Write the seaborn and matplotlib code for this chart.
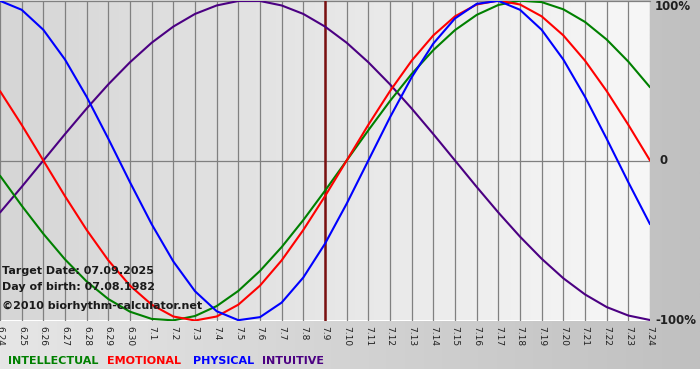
import numpy as np
import pandas as pd
import matplotlib
matplotlib.use("Agg")
import matplotlib.pyplot as plt
import seaborn as sns
from matplotlib.colors import LinearSegmentedColormap

# ---- data (percent, one value per day) ----
day_labels = ["6.24", "6.25", "6.26", "6.27", "6.28", "6.29", "6.30",
              "7.1", "7.2", "7.3", "7.4", "7.5", "7.6", "7.7", "7.8", "7.9",
              "7.10", "7.11", "7.12", "7.13", "7.14", "7.15", "7.16", "7.17",
              "7.18", "7.19", "7.20", "7.21", "7.22", "7.23", "7.24"]

intellectual = [-9.5, -28.2, -45.8, -61.8, -75.6, -86.6, -94.5, -99.0, -99.9,
                -97.2, -91.0, -81.5, -69.0, -54.1, -37.2, -18.9, 0.0, 18.9,
                37.2, 54.1, 69.0, 81.5, 91.0, 97.2, 99.9, 99.0, 94.5, 86.6,
                75.6, 61.8, 45.8]
emotional = [43.4, 22.3, 0.0, -22.3, -43.4, -62.4, -78.2, -90.1, -97.5,
             -100.0, -97.5, -90.1, -78.2, -62.4, -43.4, -22.3, 0.0, 22.3,
             43.4, 62.4, 78.2, 90.1, 97.5, 100.0, 97.5, 90.1, 78.2, 62.4,
             43.4, 22.3, 0.0]
physical = [99.8, 94.2, 81.7, 63.1, 39.8, 13.6, -13.6, -39.8, -63.1, -81.7,
            -94.2, -99.8, -97.9, -88.8, -73.1, -52.0, -27.0, 0.0, 27.0, 52.0,
            73.1, 88.8, 97.9, 99.8, 94.2, 81.7, 63.1, 39.8, 13.6, -13.6, -39.8]
intuitive = [-32.5, -16.5, 0.0, 16.5, 32.5, 47.6, 61.4, 73.6, 83.7, 91.6,
             96.9, 99.7, 99.7, 96.9, 91.6, 83.7, 73.6, 61.4, 47.6, 32.5, 16.5,
             0.0, -16.5, -32.5, -47.6, -61.4, -73.6, -83.7, -91.6, -96.9, -99.7]

target_label = "7.9"
series_names = ["INTELLECTUAL", "EMOTIONAL", "PHYSICAL", "INTUITIVE"]
info_lines = ["Target Date: 07.09.2025", "Day of birth: 07.08.1982",
              "\u00a92010 biorhythm-calculator.net"]

colors = {"INTELLECTUAL": "#008000", "EMOTIONAL": "#ff0000",
          "PHYSICAL": "#0000ff", "INTUITIVE": "#4b0082"}

x = np.arange(len(day_labels))
df = pd.concat([
    pd.DataFrame({"day": x, "value": vals, "rhythm": name})
    for name, vals in zip(series_names,
                          [intellectual, emotional, physical, intuitive])
])

sns.set_style("white")
plt.rcParams["font.family"] = ["DejaVu Sans"]

W, H = 700, 380
fig = plt.figure(figsize=(W / 100, H / 100), dpi=100, facecolor="white")

# figure background gradient (upper part), white band at the bottom
bg = fig.add_axes([0, 0, 1, 1], zorder=0)
bg.set_axis_off()
grad = np.linspace(0, 1, 256).reshape(1, -1)
cmap_bg = LinearSegmentedColormap.from_list("bg", ["#e6e6e6", "#c0c0c0"])
bg.imshow(grad, cmap=cmap_bg, aspect="auto",
          extent=[0, 1, 1 - 369 / H, 1], transform=bg.transAxes)
bg.set_xlim(0, 1)
bg.set_ylim(0, 1)

ax = fig.add_axes([0 / W, (H - 320.5) / H, 650 / W, 320 / H], zorder=1)
cmap_ax = LinearSegmentedColormap.from_list("ax", ["#d6d6d6", "#f7f7f7"])
ax.imshow(grad, cmap=cmap_ax, aspect="auto",
          extent=[0, len(x) - 1, -100, 100], zorder=0)

for xi in x:
    ax.axvline(xi, color="#808080", lw=0.9, zorder=1)
ax.axhline(0, color="#808080", lw=0.9, zorder=1)
ax.axhline(100, color="#808080", lw=0.9, zorder=1, clip_on=False)

ti = day_labels.index(target_label)
ax.axvline(ti, color="#7a1010", lw=1.8, zorder=2)

sns.lineplot(data=df, x="day", y="value", hue="rhythm",
             hue_order=["INTUITIVE", "INTELLECTUAL", "EMOTIONAL", "PHYSICAL"],
             palette=colors, linewidth=1.5, legend=False, ax=ax, zorder=3)

ax.set_xlim(0, len(x) - 1)
ax.set_ylim(-100, 100)
for s in ax.spines.values():
    s.set_visible(False)
ax.set_xlabel("")
ax.set_ylabel("")
ax.set_yticks([])
ax.set_xticks(x)
ax.set_xticklabels(day_labels, rotation=-90, fontsize=6.5, color="#202020")
ax.tick_params(axis="x", length=0, pad=4)
for lab in ax.get_xticklabels():
    lab.set_va("top")
    lab.set_ha("center")

# right-hand percentage labels
rx = 1 + 5 / 650
ax.text(rx, 100, "100%", transform=ax.get_yaxis_transform(), ha="left",
        va="top", fontsize=8.5, fontweight="bold", color="#202020",
        clip_on=False)
ax.text(1 + 9 / 650, 0, "0", transform=ax.get_yaxis_transform(), ha="left",
        va="center", fontsize=8.5, fontweight="bold", color="#202020",
        clip_on=False)
ax.text(rx, -100, "-100%", transform=ax.get_yaxis_transform(), ha="left",
        va="center", fontsize=8.5, fontweight="bold", color="#202020",
        clip_on=False)

# info text block
for txt, ypx in zip(info_lines, [271, 287, 306]):
    fig.text(2 / W, 1 - ypx / H, txt, ha="left", va="center", fontsize=8,
             fontweight="bold", color="#1a1a1a", zorder=5)

# bottom legend words
for name, xpx in zip(series_names, [8, 107, 193, 262]):
    fig.text(xpx / W, 1 - 361 / H, name, ha="left", va="center",
             fontsize=8, fontweight="bold", color=colors[name], zorder=5)

fig.savefig("out.png", dpi=100, facecolor="white")
